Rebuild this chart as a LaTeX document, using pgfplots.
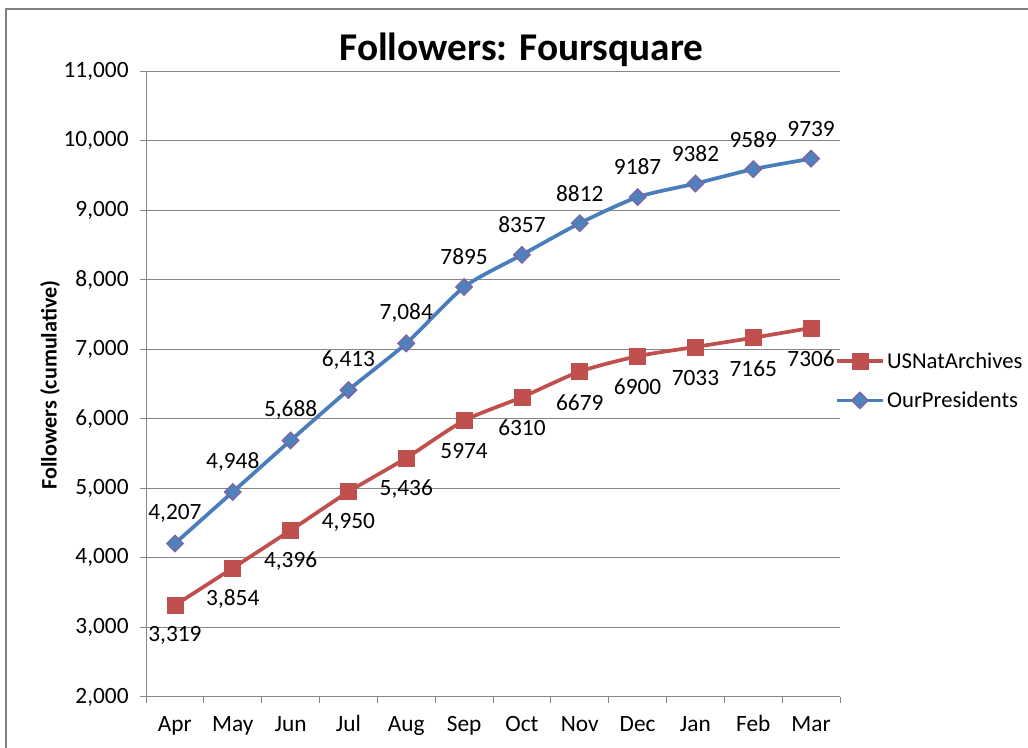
\documentclass[border=0pt]{standalone}
\usepackage{pgfplots}
\pgfplotsset{compat=1.18}
\usepackage{pgfplotstable}
\usepackage{fontspec}
\setmainfont{Carlito}
\definecolor{redS}{RGB}{192,80,77}
\definecolor{blueS}{RGB}{74,126,187}
\definecolor{blueF}{RGB}{79,129,189}
\definecolor{purpB}{RGB}{128,100,162}
\definecolor{gridc}{RGB}{134,134,134}
\definecolor{borderc}{RGB}{128,128,128}
\pgfplotstableread{
x y lab
0 3319 3,319
1 3854 3,854
2 4396 4,396
3 4950 4,950
4 5436 5,436
5 5974 5974
6 6310 6310
7 6679 6679
8 6900 6900
9 7033 7033
10 7165 7165
11 7306 7306
}\nara
\pgfplotstableread{
x y lab
0 4207 4,207
1 4948 4,948
2 5688 5,688
3 6413 6,413
4 7084 7,084
5 7895 7895
6 8357 8357
7 8812 8812
8 9187 9187
9 9382 9382
10 9589 9589
11 9739 9739
}\pres
\begin{document}
\begin{tikzpicture}
\useasboundingbox (0,0) rectangle (771pt,561pt);
\draw[borderc, line width=1.5pt] (4.5pt,0) -- (4.5pt,554.25pt) -- (771pt,554.25pt);
\node[font=\fontsize{29.5pt}{34pt}\selectfont\bfseries] at (391.1pt,523.5pt) {Followers: Foursquare};
\node[rotate=90, font=\fontsize{16.6pt}{19pt}\selectfont\bfseries] at (37.5pt,272.25pt) {Followers (cumulative)};
\begin{axis}[
  at={(109.5pt,38.25pt)}, anchor=south west,
  scale only axis, width=520.5pt, height=469.5pt,
  xmin=-0.5, xmax=11.5, ymin=2000, ymax=11000,
  scaled ticks=false,
  axis x line*=bottom, axis y line*=left,
  axis line style={gridc, line width=0.75pt},
  xtick={0,...,11},
  xticklabels={Apr,May,Jun,Jul,Aug,Sep,Oct,Nov,Dec,Jan,Feb,Mar},
  major x tick style={draw=none},
  minor xtick={-0.5,0.5,...,11.5},
  minor tick length=4.5pt,
  tick align=outside,
  major tick length=4.5pt,
  ytick={2000,3000,...,11000},
  ymajorgrids,
  grid style={gridc, line width=0.75pt},
  tick style={gridc, line width=0.75pt},
  ticklabel style={font=\fontsize{17.5pt}{20pt}\selectfont, text=black},
  yticklabel style={xshift=-5pt},
  xticklabel style={yshift=-5.5pt, text height=12.5pt, text depth=3.5pt},
  /pgf/number format/.cd, 1000 sep={,}, assume math mode=true,
  /pgfplots/.cd,
  legend style={at={(0.993,0.505)}, anchor=west, draw=none, fill=none,
    font=\fontsize{17pt}{20pt}\selectfont, row sep=12pt, inner sep=0pt},
  legend cell align=left,
  legend image code/.code={\draw[mark repeat=2,mark phase=2,#1] plot coordinates {(0pt,0pt)(17pt,0pt)(34pt,0pt)};},
  clip=false,
  nodes near coords,
  point meta=explicit symbolic,
  every node near coord/.append style={font=\fontsize{17.5pt}{20pt}\selectfont, text=black, anchor=center},
]
\addplot[redS, line width=2.8pt, smooth, tension=0.4, mark=square*, mark size=6pt, mark options={fill=redS, draw=redS, line width=0.5pt},
  every node near coord/.append style={yshift=-23pt}]
  table[x=x, y=y, meta=lab] {\nara};
\addlegendentry{USNatArchives}
\addplot[blueS, line width=2.8pt, smooth, tension=0.4, mark=square*, mark size=4.4pt, mark options={fill=blueF, draw=purpB, line width=0.9pt, rotate=45},
  every node near coord/.append style={yshift=22.5pt}]
  table[x=x, y=y, meta=lab] {\pres};
\addlegendentry{OurPresidents}
\end{axis}
\end{tikzpicture}
\end{document}
